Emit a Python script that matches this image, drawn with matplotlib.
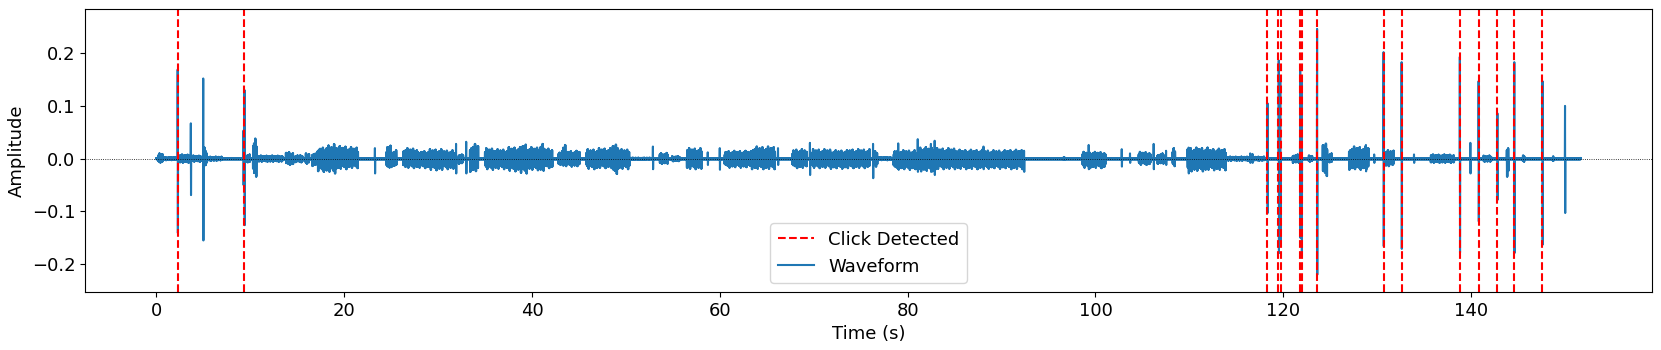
import numpy as np
import matplotlib
matplotlib.use("Agg")
import matplotlib.pyplot as plt
from matplotlib.lines import Line2D

# 音频长度 (s) 与采样步长
duration = 151.7
step = 0.02
baseline = 0.0012

# 语音段: (开始, 结束, 正峰值, 负峰值)
bursts = [
    (0.2, 0.7, 0.010, 0.008), (0.7, 2.2, 0.003, 0.003), (2.5, 3.6, 0.008, 0.008),
    (3.8, 4.9, 0.006, 0.006), (5.1, 5.4, 0.021, 0.013), (5.4, 7.0, 0.004, 0.004),
    (9.5, 10.0, 0.008, 0.008), (10.3, 10.7, 0.040, 0.034), (10.8, 13.5, 0.006, 0.006),
    (13.8, 14.6, 0.013, 0.012), (14.8, 15.6, 0.007, 0.007), (15.9, 16.3, 0.010, 0.010),
    (16.6, 17.2, 0.012, 0.014), (17.2, 18.0, 0.022, 0.025), (18.0, 18.8, 0.025, 0.026),
    (18.8, 19.3, 0.029, 0.028), (19.3, 20.5, 0.024, 0.020), (20.5, 21.5, 0.022, 0.018),
    (24.5, 25.0, 0.026, 0.021), (25.0, 25.6, 0.016, 0.016), (26.3, 27.9, 0.020, 0.018),
    (28.0, 29.0, 0.015, 0.018), (29.0, 30.5, 0.018, 0.022), (30.5, 31.7, 0.016, 0.020),
    (32.2, 32.7, 0.010, 0.010), (33.4, 34.3, 0.028, 0.025), (35.0, 36.0, 0.020, 0.021),
    (36.0, 37.5, 0.018, 0.020), (37.5, 38.8, 0.022, 0.024), (38.8, 39.5, 0.028, 0.028),
    (39.5, 40.8, 0.022, 0.022), (40.8, 41.4, 0.028, 0.024), (41.4, 42.2, 0.020, 0.018),
    (42.8, 43.2, 0.012, 0.012), (43.2, 43.6, 0.026, 0.015), (43.6, 45.1, 0.015, 0.015),
    (45.8, 47.0, 0.018, 0.020), (47.0, 48.6, 0.020, 0.018), (48.6, 49.3, 0.028, 0.029),
    (49.3, 50.4, 0.018, 0.020), (50.4, 52.6, 0.002, 0.002), (53.6, 54.5, 0.011, 0.010),
    (54.9, 55.8, 0.005, 0.005), (56.5, 58.1, 0.020, 0.020), (60.5, 63.4, 0.015, 0.017),
    (63.4, 65.9, 0.023, 0.020), (67.7, 69.3, 0.018, 0.018), (69.8, 71.8, 0.018, 0.018),
    (71.8, 73.7, 0.016, 0.019), (73.7, 76.0, 0.018, 0.018), (76.5, 76.8, 0.015, 0.015),
    (76.9, 78.3, 0.003, 0.003), (78.5, 81.0, 0.016, 0.021), (81.2, 83.0, 0.022, 0.024),
    (83.0, 85.3, 0.020, 0.020), (85.3, 88.0, 0.017, 0.020), (88.2, 90.5, 0.016, 0.019),
    (90.5, 92.4, 0.017, 0.020), (96.6, 96.8, 0.003, 0.003), (98.6, 101.1, 0.013, 0.018),
    (104.6, 105.9, 0.013, 0.012), (106.6, 107.3, 0.010, 0.010), (108.2, 108.5, 0.020, 0.015),
    (109.8, 112.0, 0.021, 0.024), (112.0, 113.9, 0.019, 0.022), (113.9, 118.0, 0.004, 0.004),
    (121.0, 121.7, 0.008, 0.008), (122.7, 123.1, 0.006, 0.006), (124.2, 124.7, 0.030, 0.033),
    (124.7, 125.2, 0.010, 0.008), (127.0, 129.1, 0.023, 0.021), (130.9, 131.8, 0.016, 0.015),
    (135.7, 138.2, 0.008, 0.008), (141.3, 142.2, 0.006, 0.006), (143.8, 144.0, 0.028, 0.034),
    (145.5, 145.7, 0.006, 0.006), (148.7, 148.8, 0.006, 0.006),
]

# 尖峰: (时间, 正幅值, 负幅值)
spikes = [
    (2.27, 0.169, 0.141), (3.70, 0.067, 0.069), (5.00, 0.152, 0.155), (9.30, 0.053, 0.050),
    (9.40, 0.130, 0.126), (23.3, 0.020, 0.028), (31.9, 0.028, 0.028), (33.0, 0.032, 0.028),
    (52.9, 0.023, 0.020), (58.7, 0.012, 0.012), (60.0, 0.020, 0.021), (66.2, 0.020, 0.012),
    (69.6, 0.030, 0.031), (76.3, 0.028, 0.037), (79.0, 0.029, 0.020), (81.1, 0.037, 0.025),
    (82.5, 0.028, 0.025), (82.9, 0.034, 0.031), (88.1, 0.023, 0.020), (92.4, 0.015, 0.025),
    (99.3, 0.026, 0.020), (102.8, 0.018, 0.015), (103.7, 0.010, 0.008), (106.2, 0.028, 0.020),
    (107.5, 0.015, 0.012), (109.9, 0.021, 0.028), (116.5, 0.010, 0.008), (116.7, 0.009, 0.008),
    (118.3, 0.105, 0.103), (119.5, 0.186, 0.179), (119.7, 0.150, 0.160), (121.8, 0.168, 0.150),
    (121.96, 0.150, 0.176), (123.6, 0.246, 0.220), (128.8, 0.026, 0.024), (129.7, 0.008, 0.008),
    (130.7, 0.202, 0.166), (132.6, 0.183, 0.171), (133.9, 0.008, 0.008), (138.8, 0.193, 0.178),
    (139.9, 0.030, 0.028), (140.8, 0.147, 0.119), (142.8, 0.086, 0.078), (144.6, 0.183, 0.179),
    (147.6, 0.147, 0.163), (150.0, 0.100, 0.103),
]

# 检测到的点击时间
clicks = [2.27, 9.38, 118.3, 119.47, 119.72, 121.8, 122.0, 123.6,
          130.7, 132.6, 138.8, 140.8, 142.8, 144.6, 147.6]

# 语音段内的起伏纹理 (相对于峰值)
grain = [0.55, 0.8, 0.62, 1.0, 0.68, 0.5, 0.85, 0.6, 0.72, 0.95, 0.58, 0.7]


def build_waveform():
    t = np.arange(0, duration, step)
    k = np.arange(t.size)
    top = np.full(t.size, baseline)
    bot = np.full(t.size, baseline)
    g = np.array(grain)
    g_top = g[(k // 5) % len(g)]
    g_bot = g[(k // 5 + 5) % len(g)]
    for t0, t1, a, b in bursts:
        m = (t >= t0) & (t < t1)
        top[m] = a * g_top[m]
        bot[m] = b * g_bot[m]
    for ts, a, b in spikes:
        i = int(round(ts / step / 2)) * 2
        top[i] = a
        bot[i + 1] = b
    y = np.where(k % 2 == 0, top, -bot)
    return t, y


def main():
    t, y = build_waveform()
    fig = plt.figure(figsize=(16.61, 3.5), dpi=100)
    ax = fig.add_axes([0.0512, 0.166, 0.9434, 0.808])

    ax.plot(t, y, color="#1f77b4", linewidth=1.5)
    for c in clicks:
        ax.axvline(c, color="red", linestyle="--", linewidth=1.5)
    ax.axhline(0, color="black", linestyle=":", linewidth=0.6)

    ax.set_xlabel("Time (s)", fontsize=13)
    ax.set_ylabel("Amplitude", fontsize=13)
    ax.tick_params(labelsize=13)
    ax.set_ylim(-0.2525, 0.2835)

    handles = [Line2D([], [], color="red", linestyle="--", linewidth=1.5),
               Line2D([], [], color="#1f77b4", linewidth=1.5)]
    ax.legend(handles, ["Click Detected", "Waveform"], loc="lower center", fontsize=13)

    fig.savefig("out.png", dpi=100)
    plt.close(fig)


if __name__ == "__main__":
    main()
